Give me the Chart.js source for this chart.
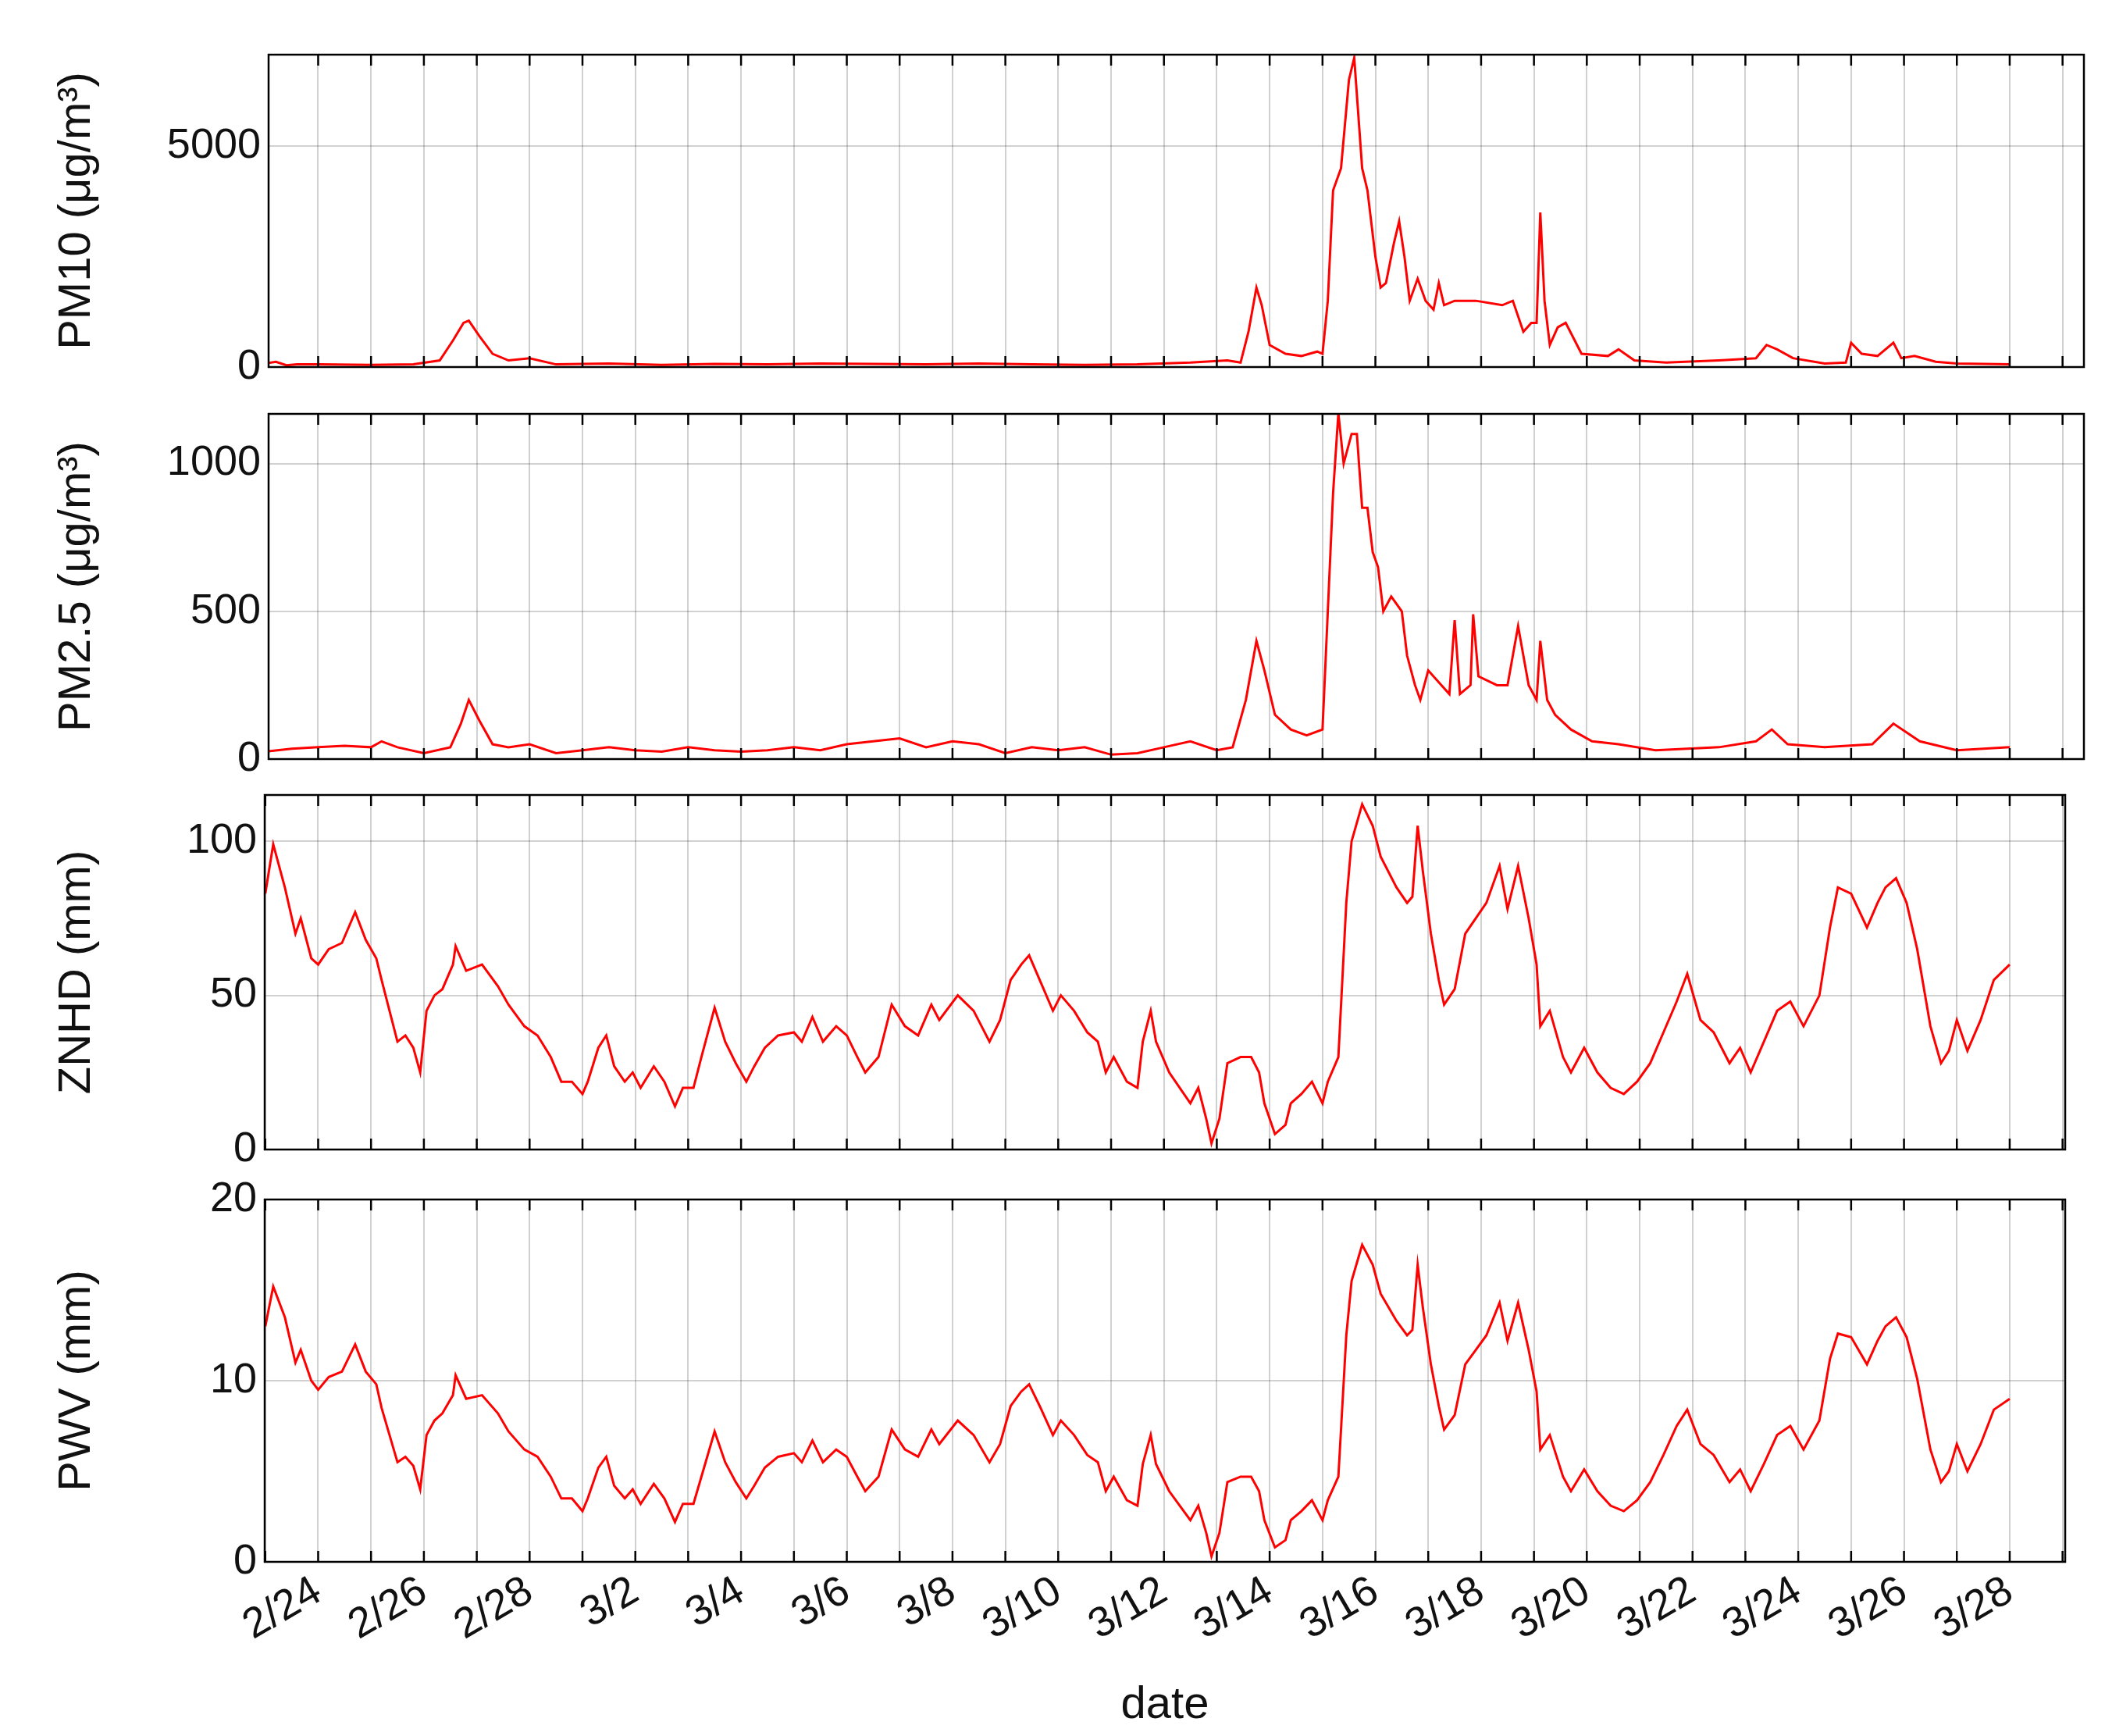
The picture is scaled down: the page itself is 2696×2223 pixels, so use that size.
<!DOCTYPE html>
<html><head><meta charset="utf-8">
<script src="https://cdn.jsdelivr.net/npm/chart.js@4.4.1/dist/chart.umd.min.js"></script>
<style>body{margin:0;background:#fff;width:2696px;height:2223px;position:relative;overflow:hidden}canvas{position:absolute;left:0}</style>
</head><body>
<canvas id="c1"></canvas><canvas id="c2"></canvas><canvas id="c3"></canvas><canvas id="c4"></canvas>
<script>
const pm10T=[-1,-0.8,-0.6,-0.4,0,1,1.8,2.3,2.55,2.75, 2.85,3.05,3.3,3.6,4.0,4.5,5.5,6.5,7.5,8.5, 9.5,10.5,11.5,12.5,13.5,14.5,15.5,16.5,17.2,17.45, 17.6,17.75,17.85,18.0,18.3,18.6,18.9,19.0,19.1,19.2, 19.35,19.5,19.6,19.75,19.85,20.0,20.1,20.2,20.35,20.45, 20.55,20.65,20.8,20.95,21.1,21.2,21.3,21.5,21.9,22.4, 22.6,22.8,22.95,23.05,23.12,23.2,23.3,23.45,23.6,23.9, 24.4,24.6,24.9,25.5,26.5,27.2,27.4,27.6,27.9,28.5, 28.9,29.0,29.2,29.5,29.8,29.95,30.2,30.6,31.0,31.5,32.0];
const pm10V=[80,120,40,60,60,50,60,150,600,1000, 1050,700,300,150,200,60,80,50,70,60, 80,70,60,80,60,50,60,100,150,100, 800,1800,1400,500,300,250,350,300,1500,4000, 4500,6500,7000,4500,4000,2500,1800,1900,2800,3300, 2500,1500,2000,1500,1300,1900,1400,1500,1500,1400, 1500,800,1000,1000,3500,1500,500,900,1000,300, 250,400,150,100,150,200,500,400,200,80, 100,550,300,250,550,200,250,120,80,70,60];
const pm25T=[-1,-0.5,0,0.5,1,1.2,1.5,2,2.5, 2.7,2.85,3.05,3.3,3.6,4,4.5,5,5.5,6, 6.5,7,7.5,8,8.5,9,9.5,10,10.5,11, 11.5,12,12.5,13,13.5,14,14.5,15,15.5,16, 16.5,17,17.3,17.55,17.75,17.9,18.1,18.4,18.7,19.0, 19.05,19.2,19.3,19.4,19.55,19.65,19.75,19.85,19.95,20.05, 20.15,20.3,20.5,20.6,20.75,20.85,21.0,21.25,21.4,21.5, 21.6,21.8,21.85,21.95,22.3,22.5,22.7,22.9,23.05,23.12, 23.25,23.4,23.7,24.1,24.6,25.3,26.5,27.2,27.5,27.8, 28.5,29.4,29.8,30.3,31.0,32.0];
const pm25V=[25,35,40,45,40,60,40,20,40, 120,200,130,50,40,50,20,30,40,30, 25,40,30,25,30,40,30,50,60,70, 40,60,50,20,40,30,40,15,20,40, 60,30,40,200,400,300,150,100,80,100, 300,900,1170,1000,1100,1100,850,850,700,650, 500,550,500,350,250,200,300,250,220,470, 220,250,490,280,250,250,450,250,200,400, 200,150,100,60,50,30,40,60,100,50, 40,50,120,60,30,40];
const wvT=[-1,-0.85,-0.63,-0.43,-0.33,-0.13,0,0.2,0.45,0.7, 0.9,1.1,1.2,1.35,1.5,1.65,1.8,1.93,2.05,2.2, 2.35,2.55,2.6,2.8,3.1,3.4,3.6,3.9,4.15,4.4, 4.6,4.8,5.0,5.1,5.3,5.45,5.6,5.8,5.95,6.1, 6.35,6.55,6.75,6.9,7.1,7.25,7.5,7.7,7.9,8.1, 8.25,8.45,8.7,9.0,9.15,9.35,9.55,9.8,10.0,10.2, 10.35,10.6,10.85,11.1,11.35,11.6,11.75,12.1,12.4,12.7, 12.9,13.1,13.3,13.45,13.65,13.9,14.05,14.3,14.55,14.75, 14.9,15.05,15.3,15.5,15.6,15.75,15.85,16.1,16.3,16.5, 16.65,16.8,16.9,17.05,17.2,17.45,17.65,17.8,17.9,18.1, 18.3,18.4,18.6,18.8,19.0,19.1,19.3,19.45,19.55,19.75, 19.95,20.1,20.4,20.6,20.7,20.8,20.9,21.05,21.2,21.3, 21.5,21.7,21.9,22.1,22.35,22.5,22.7,22.9,23.05,23.12, 23.3,23.55,23.7,23.95,24.2,24.45,24.7,24.95,25.2,25.45, 25.7,25.9,26.15,26.4,26.7,26.9,27.1,27.35,27.6,27.85, 28.1,28.4,28.6,28.75,29.0,29.3,29.5,29.65,29.85,30.05, 30.25,30.5,30.7,30.85,31.0,31.2,31.45,31.7,32.0];
const znhdV=[83,99,85,70,75,62,60,65,67,77, 68,62,55,45,35,37,33,25,45,50, 52,60,66,58,60,53,47,40,37,30, 22,22,18,22,33,37,27,22,25,20, 27,22,14,20,20,30,46,35,28,22, 27,33,37,38,35,43,35,40,37,30, 25,30,47,40,37,47,42,50,45,35, 42,55,60,63,55,45,50,45,38,35, 25,30,22,20,35,45,35,25,20,15, 20,10,2,10,28,30,30,25,15,5, 8,15,18,22,15,22,30,80,100,112, 105,95,85,80,82,105,90,70,55,47, 52,70,75,80,92,78,92,75,60,40, 45,30,25,33,25,20,18,22,28,38, 48,57,42,38,28,33,25,35,45,48, 40,50,72,85,83,72,80,85,88,80, 65,40,28,32,42,32,42,55,60];
const pwvV=[13,15.2,13.5,11,11.7,10,9.5,10.2,10.5,12, 10.5,9.8,8.5,7,5.5,5.8,5.3,4,7,7.8, 8.2,9.2,10.3,9,9.2,8.2,7.2,6.2,5.8,4.7, 3.5,3.5,2.8,3.5,5.2,5.8,4.2,3.5,4,3.2, 4.3,3.5,2.2,3.2,3.2,4.7,7.2,5.5,4.4,3.5, 4.2,5.2,5.8,6,5.5,6.7,5.5,6.2,5.8,4.7, 3.9,4.7,7.3,6.2,5.8,7.3,6.5,7.8,7,5.5, 6.5,8.6,9.4,9.8,8.6,7,7.8,7,5.9,5.5, 3.9,4.7,3.4,3.1,5.4,7,5.4,3.9,3.1,2.3, 3.1,1.6,0.3,1.6,4.4,4.7,4.7,3.9,2.3,0.8, 1.2,2.3,2.8,3.4,2.3,3.4,4.7,12.5,15.5,17.5, 16.4,14.8,13.3,12.5,12.8,16.4,14,10.9,8.6,7.3, 8.1,10.9,11.7,12.5,14.3,12.2,14.3,11.7,9.4,6.2, 7,4.7,3.9,5.1,3.9,3.1,2.8,3.4,4.4,5.9, 7.5,8.4,6.5,5.9,4.4,5.1,3.9,5.4,7,7.5, 6.2,7.8,11.2,12.6,12.4,10.9,12.2,13,13.5,12.4, 10.1,6.2,4.4,5,6.5,5,6.5,8.4,9];
const yTitles=['PM10 (μg/m³)','PM2.5 (μg/m³)','ZNHD (mm)','PWV (mm)'];
const yMax=[7070,1168,115,20];
const yTicks=[[0,5000],[0,500,1000],[0,50,100],[0,10,20]];

const FONT='"Liberation Sans", Arial, sans-serif';
const PAD=60;
const frame={id:'frame',afterDraw(c){const a=c.chartArea,x=c.ctx;x.save();x.strokeStyle='#000';x.lineWidth=2.5;x.strokeRect(a.left,a.top,a.right-a.left,a.bottom-a.top);
 const xs=c.scales.x;x.beginPath();for(let d=-1;d<=34;d++){const p=xs.getPixelForValue(d);if(p<a.left||p>a.right)continue;x.moveTo(p,a.bottom);x.lineTo(p,a.bottom-14);x.moveTo(p,a.top);x.lineTo(p,a.top+14);}x.stroke();x.restore();}};
function dateLbl(v){if(v%2!==0)return '';const d=24+v;return d<=28?'2/'+d:'3/'+(d-28);}
const panels=[{top:70,bot:470,left:344,right:2669,T:pm10T,V:pm10V},{top:530,bot:972,left:344,right:2669,T:pm25T,V:pm25V},{top:1018,bot:1472,left:339,right:2645,T:wvT,V:znhdV},{top:1536,bot:2000,left:339,right:2645,T:wvT,V:pwvV}];
panels.forEach((p,i)=>{
 const last=i===3;const cv=document.getElementById('c'+(i+1));
 const ct=p.top-PAD;const ch=last?2223-ct:(p.bot-p.top+2*PAD);
 cv.style.top=ct+'px';cv.width=2696;cv.height=ch;cv.style.width='2696px';cv.style.height=ch+'px';
 const ppd=(1497-237)*1.7194/32; const xmin=-(((237*1.7194)-p.left)/ppd); const xmx=32+(p.right-1497*1.7194)/ppd;
 new Chart(cv,{type:'line',data:{datasets:[{data:p.T.map((t,k)=>({x:t,y:p.V[k]})),borderColor:'#ff0000',borderWidth:3,pointRadius:0,tension:0}]},
 options:{responsive:false,animation:false,devicePixelRatio:1,layout:{padding:{left:60,right:2696-p.right,top:PAD,bottom:last?0:PAD}},
 plugins:{legend:{display:false},tooltip:{enabled:false}},
 scales:{x:{type:'linear',min:xmin,max:xmx,afterFit:s=>{s.height=last?2223-p.bot:0;},
  ticks:{display:last,stepSize:1,autoSkip:false,callback:dateLbl,maxRotation:30,minRotation:30,color:'#111',font:{family:FONT,size:54},padding:6},
  afterBuildTicks:s=>{s.ticks=[];for(let d=-1;d<=34;d++)if(d>=s.min&&d<=s.max)s.ticks.push({value:d});},
  grid:{color:'rgba(0,0,0,0.18)',lineWidth:2,drawTicks:false},border:{display:false},
  title:{display:last,text:'date',color:'#111',font:{family:FONT,size:58},padding:{top:0}}},
 y:{min:0,max:yMax[i],afterFit:s=>{s.width=p.left-60;},
  afterBuildTicks:s=>{s.ticks=yTicks[i].map(v=>({value:v}));},
  ticks:{color:'#111',font:{family:FONT,size:54},padding:10,callback:v=>String(v)},
  grid:{color:'rgba(0,0,0,0.18)',lineWidth:2,drawTicks:false},border:{display:false},
  title:{display:true,text:yTitles[i],color:'#111',font:{family:FONT,size:58},padding:{bottom:4}}}}},
 plugins:[frame]});
});
</script></body></html>
